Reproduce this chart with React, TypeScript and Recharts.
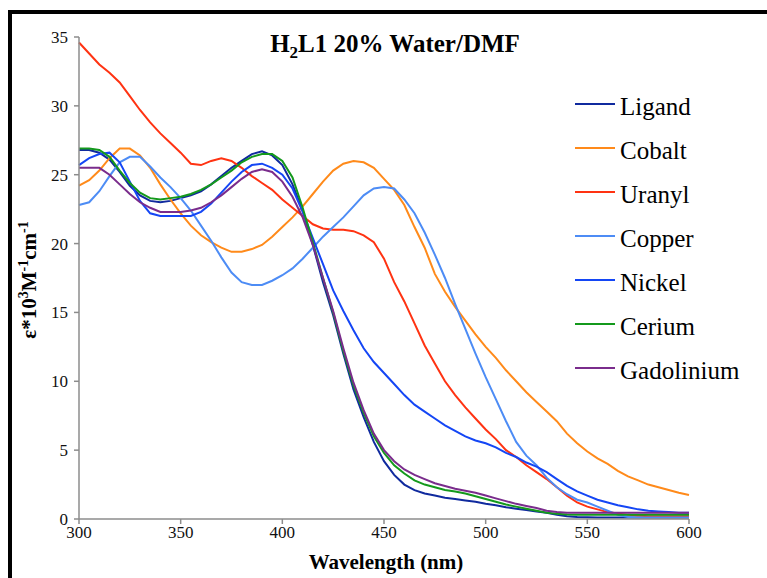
import React from 'react';
import { LineChart, Line, XAxis, YAxis } from 'recharts';

const wavelengths = [
    300, 305, 310, 315, 320, 325, 330, 335, 340, 345, 350, 355, 360, 365, 370, 375, 380, 385, 390, 395,
    400, 405, 410, 415, 420, 425, 430, 435, 440, 445, 450, 455, 460, 465, 470, 475, 480, 485, 490, 495,
    500, 505, 510, 515, 520, 525, 530, 535, 540, 545, 550, 555, 560, 565, 570, 575, 580, 585, 590, 595, 600,
];

const ligand = [
    26.8, 26.8, 26.6, 26.1, 25.2, 24.2, 23.5, 23.1, 23.0, 23.1, 23.3, 23.5, 23.8, 24.3, 24.9, 25.5, 26.0, 26.5, 26.7, 26.4,
    25.7, 24.3, 22.4, 19.9, 17.2, 14.8, 12.0, 9.4, 7.4, 5.6, 4.2, 3.2, 2.5, 2.1, 1.85, 1.7, 1.55, 1.45, 1.35, 1.25,
    1.1, 1.0, 0.85, 0.75, 0.65, 0.55, 0.45, 0.3, 0.2, 0.15, 0.12, 0.1, 0.1, 0.1, 0.1, 0.1, 0.1, 0.1, 0.1, 0.1, 0.1,
];
const cobalt = [
    24.2, 24.6, 25.3, 26.2, 26.9, 26.9, 26.4, 25.5, 24.3, 23.2, 22.2, 21.3, 20.6, 20.1, 19.7, 19.4, 19.4, 19.6, 19.9, 20.5,
    21.2, 21.9, 22.7, 23.6, 24.5, 25.3, 25.8, 26.0, 25.9, 25.5, 24.7, 23.9, 22.8, 21.2, 19.7, 17.8, 16.5, 15.4, 14.4, 13.4,
    12.5, 11.7, 10.8, 10.0, 9.2, 8.5, 7.8, 7.1, 6.2, 5.5, 4.9, 4.4, 4.0, 3.5, 3.1, 2.8, 2.5, 2.3, 2.1, 1.9, 1.75,
];
const uranyl = [
    34.6, 33.8, 33.0, 32.4, 31.7, 30.7, 29.7, 28.8, 28.0, 27.3, 26.6, 25.8, 25.7, 26.0, 26.2, 26.0, 25.5, 24.9, 24.4, 23.9,
    23.2, 22.6, 22.0, 21.4, 21.1, 21.0, 21.0, 20.9, 20.6, 20.1, 18.9, 17.2, 15.8, 14.2, 12.6, 11.3, 10.0, 9.0, 8.1, 7.3,
    6.5, 5.8, 5.0, 4.5, 3.9, 3.4, 2.9, 2.3, 1.7, 1.2, 0.9, 0.7, 0.5, 0.4, 0.3, 0.25, 0.2, 0.2, 0.2, 0.2, 0.2,
];
const copper = [
    22.8, 23.0, 23.8, 24.9, 25.9, 26.3, 26.3, 25.6, 24.8, 24.1, 23.3, 22.4, 21.3, 20.2, 19.0, 17.9, 17.2, 17.0, 17.0, 17.3,
    17.7, 18.2, 18.9, 19.7, 20.5, 21.2, 21.9, 22.7, 23.5, 24.0, 24.1, 24.0, 23.2, 22.2, 20.8, 19.2, 17.5, 15.6, 13.8, 12.0,
    10.3, 8.7, 7.1, 5.6, 4.6, 3.9, 3.0, 2.3, 1.8, 1.4, 1.2, 0.9, 0.6, 0.3, 0.15, 0.1, 0.1, 0.1, 0.1, 0.1, 0.1,
];
const nickel = [
    25.7, 26.2, 26.5, 26.6, 25.9, 24.5, 23.1, 22.2, 22.0, 22.0, 22.0, 22.0, 22.3, 22.9, 23.7, 24.5, 25.2, 25.7, 25.8, 25.5,
    25.0, 24.0, 22.3, 20.4, 18.5, 16.6, 15.1, 13.7, 12.4, 11.4, 10.6, 9.8, 9.0, 8.3, 7.8, 7.3, 6.8, 6.4, 6.0, 5.7,
    5.5, 5.2, 4.8, 4.5, 4.1, 3.8, 3.4, 2.9, 2.4, 2.0, 1.7, 1.4, 1.2, 1.0, 0.85, 0.7, 0.6, 0.55, 0.5, 0.45, 0.45,
];
const cerium = [
    26.9, 26.9, 26.8, 26.3, 25.3, 24.4, 23.7, 23.3, 23.2, 23.3, 23.4, 23.6, 23.9, 24.3, 24.8, 25.3, 25.9, 26.3, 26.5, 26.5,
    26.0, 24.8, 22.6, 20.1, 17.5, 15.0, 12.2, 9.7, 7.7, 6.0, 4.8, 3.9, 3.3, 2.8, 2.5, 2.3, 2.1, 2.0, 1.85, 1.65,
    1.45, 1.25, 1.05, 0.9, 0.75, 0.6, 0.45, 0.38, 0.32, 0.3, 0.3, 0.3, 0.3, 0.3, 0.3, 0.3, 0.3, 0.3, 0.3, 0.3, 0.3,
];
const gadolinium = [
    25.5, 25.5, 25.5, 25.0, 24.3, 23.6, 23.0, 22.6, 22.3, 22.3, 22.3, 22.4, 22.6, 23.0, 23.5, 24.1, 24.7, 25.2, 25.4, 25.2,
    24.5, 23.4, 21.9, 19.9, 17.5, 15.1, 12.4, 9.9, 7.9, 6.2, 5.0, 4.2, 3.6, 3.2, 2.9, 2.6, 2.4, 2.2, 2.05, 1.9,
    1.7, 1.5, 1.3, 1.1, 0.95, 0.8, 0.6, 0.5, 0.45, 0.45, 0.45, 0.45, 0.45, 0.45, 0.45, 0.45, 0.45, 0.45, 0.45, 0.45, 0.45,
];

const xTicks = [300, 350, 400, 450, 500, 550, 600];
const yTicks = [0, 5, 10, 15, 20, 25, 30, 35];

const series = [
    { name: 'Ligand', values: ligand, color: '#102A9E' },
    { name: 'Cobalt', values: cobalt, color: '#FF8A1A' },
    { name: 'Uranyl', values: uranyl, color: '#FF3312' },
    { name: 'Copper', values: copper, color: '#4D8CF5' },
    { name: 'Nickel', values: nickel, color: '#1446F5' },
    { name: 'Cerium', values: cerium, color: '#14991C' },
    { name: 'Gadolinium', values: gadolinium, color: '#7A2C8C' },
];

const data = wavelengths.map((nm, i) => {
    const row: Record<string, number> = { nm };
    series.forEach(s => { row[s.name] = s.values[i]; });
    return row;
});

const serif = '"Liberation Serif", "Times New Roman", serif';
const axisGray = '#8c8c8c';

// legend drawn as an overlay so it doesn't steal width from the plot
const LegendBox = () => (
    <div style={{ position: 'absolute', left: 575, top: 82, fontFamily: serif, fontSize: 25, color: '#000' }}>
        {series.map(s => (
            <div key={s.name} style={{ position: 'relative', height: 44, width: 190, whiteSpace: 'nowrap' }}>
                <span style={{ position: 'absolute', left: 0, top: 21, width: 40, height: 2, background: s.color }} />
                <span style={{ position: 'absolute', left: 45, top: 3, lineHeight: '44px' }}>{s.name}</span>
            </div>
        ))}
    </div>
);

export default function App() {
    return (
        <div style={{ position: 'absolute', left: 0, top: 0, width: 767, height: 578, overflow: 'hidden', background: '#fff' }}>
            <div style={{ position: 'absolute', left: 8, top: 10, width: 900, height: 900, border: '4px solid #000', boxSizing: 'border-box' }} />

            <LineChart width={767} height={578} data={data} margin={{ top: 37, right: 78, bottom: 0, left: 0 }}>
                <XAxis
                    dataKey="nm"
                    type="number"
                    domain={[300, 600]}
                    ticks={xTicks}
                    height={59}
                    tickSize={5}
                    stroke={axisGray}
                    strokeWidth={1.5}
                    tick={{ fill: '#111', fontSize: 17, fontFamily: serif }}
                />
                <YAxis
                    type="number"
                    domain={[0, 35]}
                    ticks={yTicks}
                    width={79}
                    tickSize={5}
                    tickMargin={6}
                    stroke={axisGray}
                    strokeWidth={1.5}
                    tick={{ fill: '#111', fontSize: 17, fontFamily: serif }}
                />
                {series.map(s => (
                    <Line
                        key={s.name}
                        type="linear"
                        dataKey={s.name}
                        stroke={s.color}
                        strokeWidth={2}
                        dot={false}
                        isAnimationActive={false}
                    />
                ))}
            </LineChart>

            <LegendBox />

            <div style={{ position: 'absolute', left: 395, top: 32, transform: 'translateX(-50%)', fontFamily: serif, fontWeight: 'bold', fontSize: 25, lineHeight: '24px', whiteSpace: 'nowrap' }}>
                H<sub style={{ fontSize: 17, lineHeight: 0 }}>2</sub>L1 20% Water/DMF
            </div>

            <div style={{ position: 'absolute', left: 386, top: 552, transform: 'translateX(-50%)', fontFamily: serif, fontWeight: 'bold', fontSize: 21, lineHeight: '21px', whiteSpace: 'nowrap' }}>
                Wavelength (nm)
            </div>

            <div style={{ position: 'absolute', left: 29, top: 280, transform: 'translate(-50%, -50%) rotate(-90deg)', fontFamily: serif, fontWeight: 'bold', fontSize: 21, lineHeight: '21px', whiteSpace: 'nowrap' }}>
                ε*10<sup style={{ fontSize: 14, lineHeight: 0 }}>3</sup>M<sup style={{ fontSize: 14, lineHeight: 0 }}>-1</sup>cm<sup style={{ fontSize: 14, lineHeight: 0 }}>-1</sup>
            </div>
        </div>
    );
}
